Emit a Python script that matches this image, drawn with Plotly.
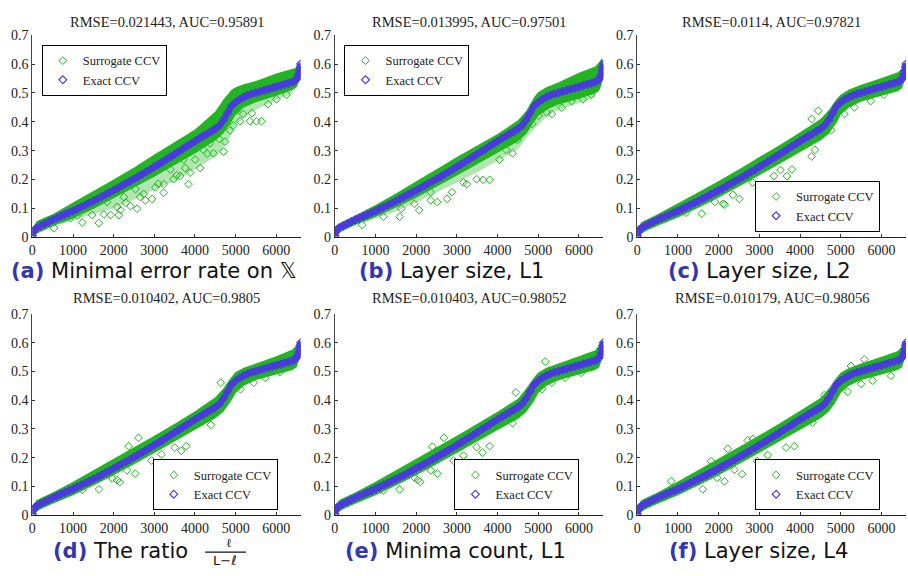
import plotly.graph_objects as go

# ---------------- data ----------------
# Exact CCV (sorted), same in every panel
EX_X = [0, 25, 50, 100, 200, 300, 400, 500, 600, 700, 800, 900, 1000, 1100, 1200, 1300, 1400,
        1500, 1600, 1700, 1800, 1900, 2000, 2100, 2200, 2300, 2400, 2500, 2600, 2700, 2800, 2900,
        3000, 3100, 3200, 3300, 3400, 3500, 3600, 3700, 3800, 3900, 4000, 4100, 4200, 4300, 4400,
        4500, 4600, 4700, 4800, 4900, 5000, 5100, 5200, 5300, 5400, 5500, 5600, 5700, 5800, 5900,
        6000, 6100, 6200, 6300, 6400, 6450, 6500, 6530, 6550, 6570, 6585, 6600]
EX_Y = [0.005, 0.018, 0.026, 0.032, 0.040, 0.047, 0.054, 0.061, 0.067, 0.073, 0.079, 0.085, 0.091,
        0.098, 0.105, 0.112, 0.119, 0.126, 0.133, 0.140, 0.148, 0.155, 0.163,
        0.170, 0.178, 0.186, 0.194, 0.202, 0.210, 0.218, 0.227, 0.235, 0.244,
        0.252, 0.261, 0.270, 0.279, 0.288, 0.297, 0.306, 0.315, 0.324, 0.333,
        0.342, 0.350, 0.358, 0.366, 0.375, 0.387, 0.406, 0.430, 0.455, 0.468,
        0.478, 0.486, 0.492, 0.497, 0.501, 0.505, 0.509, 0.513, 0.517, 0.521,
        0.525, 0.529, 0.533, 0.538, 0.542, 0.548, 0.555, 0.565, 0.578, 0.590, 0.600]

# x positions where the surrogate band edges were read
BAND_X = [0, 100, 250, 500, 1000, 1500, 2000, 2500, 3000, 3500, 4000, 4500, 4700, 4900,
          5000, 5200, 5500, 6000, 6400, 6500, 6560, 6600]
# x positions where the lower edge of the sparse surrogate cloud was read
CLOUD_X = [700, 1000, 1500, 2000, 2500, 3000, 3500, 4000, 4500, 4800, 5000, 5300, 5600, 6000, 6400]

# (a) Minimal error rate
SUR_UP_A = [0.025, 0.055, 0.065, 0.080, 0.120, 0.160, 0.200, 0.242, 0.287, 0.330, 0.373, 0.436,
            0.477, 0.511, 0.520, 0.530, 0.541, 0.567, 0.584, 0.587, 0.592, 0.590]
SUR_LO_A = [0.000, 0.012, 0.022, 0.038, 0.065, 0.098, 0.135, 0.172, 0.210, 0.250, 0.290, 0.335,
            0.360, 0.400, 0.425, 0.450, 0.468, 0.490, 0.510, 0.520, 0.540, 0.560]
CLOUD_A = [0.045, 0.060, 0.080, 0.100, 0.130, 0.165, 0.195, 0.235, 0.280, 0.330, 0.390, 0.425,
           0.450, 0.475, 0.500]
OUT_XA = [1225, 1636, 1472, 1759, 1922, 2126, 2086, 2413, 2577, 2779, 2943, 3229, 2737, 2250,
          3229, 3473, 3636, 3840, 3759, 4127, 4208, 4453, 4698, 4739, 4861, 5106, 5351, 5514,
          5637, 5024, 5800, 6004, 6249, 4371, 4535, 3392, 3881, 2537, 3024, 1840, 1391, 941,
          533, 2168, 4004, 4943, 5187, 3718, 1100, 2300, 2650, 3100, 3550, 4300, 4600, 5400]
OUT_YA = [0.051, 0.049, 0.077, 0.079, 0.077, 0.077, 0.105, 0.108, 0.099, 0.128, 0.133, 0.154,
          0.150, 0.139, 0.184, 0.201, 0.212, 0.184, 0.240, 0.240, 0.303, 0.291, 0.297, 0.331,
          0.370, 0.402, 0.402, 0.402, 0.402, 0.438, 0.461, 0.478, 0.494, 0.325, 0.365, 0.235,
          0.224, 0.167, 0.173, 0.122, 0.111, 0.066, 0.032, 0.094, 0.269, 0.387, 0.427, 0.269,
          0.075, 0.120, 0.140, 0.185, 0.215, 0.290, 0.340, 0.430]

# (b) Layer size, L1
SUR_UP_B = [0.022, 0.048, 0.058, 0.075, 0.112, 0.152, 0.194, 0.236, 0.278, 0.318, 0.358, 0.405,
            0.437, 0.486, 0.503, 0.520, 0.537, 0.570, 0.592, 0.607, 0.620, 0.605]
SUR_LO_B = [0.000, 0.015, 0.026, 0.042, 0.070, 0.103, 0.137, 0.175, 0.214, 0.253, 0.293, 0.332,
            0.357, 0.400, 0.420, 0.442, 0.460, 0.480, 0.498, 0.508, 0.530, 0.560]
CLOUD_B = [0.050, 0.065, 0.090, 0.120, 0.155, 0.190, 0.225, 0.265, 0.305, 0.360, 0.390, 0.430,
           0.445, 0.465, 0.485]
OUT_XB = [1192, 1593, 1955, 2076, 2357, 2518, 2880, 2357, 3162, 3484, 3645, 3806, 3243, 4369,
          4208, 4852, 5013, 5214, 5576, 5335, 5817, 6099, 6300, 4490, 4048, 2760, 1633, 668]
OUT_YB = [0.071, 0.071, 0.116, 0.094, 0.128, 0.122, 0.156, 0.156, 0.190, 0.201, 0.199, 0.199,
          0.184, 0.291, 0.303, 0.393, 0.421, 0.432, 0.449, 0.427, 0.472, 0.478, 0.494, 0.337,
          0.269, 0.133, 0.099, 0.043]

# (c) Layer size, L2
SUR_UP_C = [0.025, 0.052, 0.062, 0.080, 0.118, 0.156, 0.195, 0.236, 0.278, 0.320, 0.364, 0.410,
            0.440, 0.480, 0.495, 0.512, 0.528, 0.552, 0.572, 0.585, 0.605, 0.600]
SUR_LO_C = [0.000, 0.012, 0.024, 0.040, 0.068, 0.102, 0.138, 0.176, 0.215, 0.255, 0.295, 0.335,
            0.358, 0.398, 0.425, 0.450, 0.470, 0.490, 0.506, 0.516, 0.540, 0.565]
OUT_XC = [1586, 2109, 1908, 2350, 2511, 3518, 3679, 3800, 3357, 2833, 4364, 4284, 4767, 5089,
          5331, 5734, 6056, 4445, 4284, 1200, 2150]
OUT_YC = [0.082, 0.116, 0.122, 0.147, 0.133, 0.233, 0.212, 0.235, 0.212, 0.190, 0.303, 0.280,
          0.371, 0.427, 0.450, 0.472, 0.494, 0.438, 0.410, 0.085, 0.113]

# (d) The ratio l/(L-l)
SUR_UP_D = [0.025, 0.052, 0.062, 0.079, 0.116, 0.156, 0.196, 0.236, 0.276, 0.318, 0.362, 0.410,
            0.442, 0.482, 0.498, 0.513, 0.528, 0.553, 0.576, 0.592, 0.612, 0.600]
SUR_LO_D = [0.000, 0.012, 0.024, 0.040, 0.069, 0.103, 0.139, 0.177, 0.216, 0.256, 0.297, 0.337,
            0.360, 0.400, 0.425, 0.450, 0.470, 0.489, 0.505, 0.515, 0.540, 0.565]
OUT_XD = [1637, 1232, 2083, 1962, 2326, 2529, 2934, 3177, 3500, 3663, 3784, 4392, 4797, 5121,
          5445, 5728, 6092, 2610, 2367, 4635, 2150]
OUT_YD = [0.090, 0.088, 0.122, 0.128, 0.156, 0.145, 0.190, 0.212, 0.235, 0.224, 0.240, 0.314,
          0.404, 0.438, 0.461, 0.478, 0.497, 0.269, 0.240, 0.461, 0.115]

# (e) Minima count, L1
SUR_UP_E = [0.025, 0.052, 0.062, 0.079, 0.116, 0.156, 0.196, 0.236, 0.276, 0.318, 0.360, 0.405,
            0.440, 0.480, 0.496, 0.513, 0.528, 0.553, 0.574, 0.592, 0.612, 0.600]
SUR_LO_E = [0.000, 0.012, 0.024, 0.040, 0.069, 0.103, 0.139, 0.177, 0.216, 0.256, 0.296, 0.335,
            0.358, 0.398, 0.425, 0.450, 0.469, 0.489, 0.505, 0.515, 0.540, 0.565]
OUT_XE = [1593, 1192, 2037, 1955, 2100, 2357, 2518, 2920, 3162, 3484, 3628, 3806, 4369, 4771,
          5093, 5335, 5657, 6059, 2680, 2397, 4450, 5174]
OUT_YE = [0.090, 0.086, 0.122, 0.131, 0.116, 0.156, 0.145, 0.190, 0.207, 0.237, 0.218, 0.240,
          0.320, 0.410, 0.438, 0.461, 0.478, 0.495, 0.269, 0.238, 0.427, 0.534]

# (f) Layer size, L4
SUR_UP_F = [0.025, 0.052, 0.062, 0.079, 0.117, 0.157, 0.197, 0.237, 0.278, 0.320, 0.363, 0.408,
            0.440, 0.480, 0.496, 0.512, 0.528, 0.551, 0.571, 0.587, 0.607, 0.600]
SUR_LO_F = [0.000, 0.012, 0.024, 0.040, 0.069, 0.103, 0.139, 0.178, 0.217, 0.257, 0.297, 0.337,
            0.360, 0.400, 0.426, 0.450, 0.470, 0.489, 0.505, 0.515, 0.540, 0.565]
OUT_XF = [1611, 2142, 1962, 2388, 2576, 2944, 3205, 3655, 3859, 4309, 4759, 5168, 5495, 5781,
          6231, 2715, 2838, 2224, 1815, 834, 4595, 5250, 5577]
OUT_YF = [0.090, 0.118, 0.130, 0.158, 0.143, 0.188, 0.209, 0.235, 0.240, 0.322, 0.389, 0.429,
          0.457, 0.468, 0.485, 0.260, 0.265, 0.231, 0.188, 0.118, 0.418, 0.519, 0.542]

TITLES = ["RMSE=0.021443, AUC=0.95891", "RMSE=0.013995, AUC=0.97501", "RMSE=0.0114, AUC=0.97821",
          "RMSE=0.010402, AUC=0.9805", "RMSE=0.010403, AUC=0.98052", "RMSE=0.010179, AUC=0.98056"]
CAPTIONS = ["(a)|Minimal error rate on 𝕏", "(b)|Layer size, L1", "(c)|Layer size, L2",
            "(d)|The ratio", "(e)|Minima count, L1", "(f)|Layer size, L4"]
X_TICKS = [0, 1000, 2000, 3000, 4000, 5000, 6000]
Y_TICKS = [0, 0.1, 0.2, 0.3, 0.4, 0.5, 0.6, 0.7]
LEG_NAMES = ["Surrogate CCV", "Exact CCV"]

# ---------------- styling / layout ----------------
# Page margin is removed (post_script); the page adds a few pixels below the
# figure, so the figure is a little shorter than the window.
W, H = 908, 567
GREEN = "#22B422"
BLUE = "#4A3BDD"
CAPBLUE = "#3535B0"
SERIF = "Liberation Serif, Times New Roman, serif"
SANS = "DejaVu Sans, sans-serif"


def px_x(v):
    return v / W


def px_y(v):
    return 1 - v / H


col_px = [(28.5, 298.0), (332.3, 602.0), (636.0, 906.0)]
row_px = [(29.0, 236.5), (315.3, 522.0)]
cap_center_px = [150.5, 449.5, 758.5, 122.0, 453.5, 758.0]
legend_pos = [  # (x_px, y_px, xanchor, yanchor)
    (38, 39, "left", "top"), (342, 39, "left", "top"), (880, 231, "right", "bottom"),
    (275, 517, "right", "bottom"), (578, 517, "right", "bottom"), (880, 517, "right", "bottom")]

panels = [
    (SUR_UP_A, SUR_LO_A, CLOUD_A, OUT_XA, OUT_YA),
    (SUR_UP_B, SUR_LO_B, CLOUD_B, OUT_XB, OUT_YB),
    (SUR_UP_C, SUR_LO_C, None, OUT_XC, OUT_YC),
    (SUR_UP_D, SUR_LO_D, None, OUT_XD, OUT_YD),
    (SUR_UP_E, SUR_LO_E, None, OUT_XE, OUT_YE),
    (SUR_UP_F, SUR_LO_F, None, OUT_XF, OUT_YF),
]

fig = go.Figure()
layout = dict(width=W, height=H, margin=dict(l=0, r=0, t=0, b=0),
              paper_bgcolor="white", plot_bgcolor="white", showlegend=True)
annotations = []
shapes = []

for i, (up, lo, cloud, ox, oy) in enumerate(panels):
    r, c = divmod(i, 3)
    n = i + 1
    xa = "x" if n == 1 else f"x{n}"
    ya = "y" if n == 1 else f"y{n}"
    leg = "legend" if n == 1 else f"legend{n}"
    x0, x1 = col_px[c]
    y0, y1 = row_px[r]
    layout["xaxis" if n == 1 else f"xaxis{n}"] = dict(
        domain=[px_x(x0), px_x(x1)], range=[0, 6600], anchor=ya, tickvals=X_TICKS,
        ticktext=[str(v) for v in X_TICKS], ticks="inside", ticklen=3, tickcolor="#333",
        showline=True, linecolor="#222", linewidth=1, showgrid=False, zeroline=False,
        tickfont=dict(family=SERIF, size=14, color="#222"))
    layout["yaxis" if n == 1 else f"yaxis{n}"] = dict(
        domain=[px_y(y1), px_y(y0)], range=[0, 0.7], anchor=xa, tickvals=Y_TICKS,
        ticktext=["0" if v == 0 else f"{v:.1f}" for v in Y_TICKS], ticks="inside", ticklen=3,
        tickcolor="#333", showline=True, linecolor="#444", linewidth=1, showgrid=False,
        zeroline=False, tickfont=dict(family=SERIF, size=14, color="#222"))
    lx, ly, lxa, lya = legend_pos[i]
    layout[leg] = dict(x=px_x(lx), y=px_y(ly), xanchor=lxa, yanchor=lya, bgcolor="white",
                       bordercolor="black", borderwidth=1, tracegroupgap=0,
                       font=dict(family=SERIF, size=12.5, color="#222"))

    # sparse cloud of surrogate points (panels a, b)
    if cloud is not None:
        top_x = [x for x in EX_X if CLOUD_X[0] <= x <= CLOUD_X[-1]]
        top_y = [y for x, y in zip(EX_X, EX_Y) if CLOUD_X[0] <= x <= CLOUD_X[-1]]
        fig.add_trace(go.Scatter(x=top_x + CLOUD_X[::-1], y=top_y + cloud[::-1], mode="none",
                                 fill="toself", fillcolor="rgba(34,180,34,0.35)",
                                 xaxis=xa, yaxis=ya, showlegend=False, hoverinfo="skip"))
    # dense surrogate band
    fig.add_trace(go.Scatter(x=BAND_X + BAND_X[::-1], y=up + lo[::-1], mode="none",
                             fill="toself", fillcolor=GREEN, xaxis=xa, yaxis=ya,
                             showlegend=False, hoverinfo="skip"))
    # individual surrogate points
    fig.add_trace(go.Scatter(x=ox, y=oy, mode="markers", name=LEG_NAMES[0],
                             marker=dict(symbol="diamond-open", size=6, color=GREEN,
                                         line=dict(width=1, color=GREEN)),
                             xaxis=xa, yaxis=ya, legend=leg))
    # exact CCV band
    fig.add_trace(go.Scatter(x=EX_X, y=EX_Y, mode="lines", line=dict(color=BLUE, width=6),
                             xaxis=xa, yaxis=ya, showlegend=False, hoverinfo="skip"))
    fig.add_trace(go.Scatter(x=EX_X, y=EX_Y, mode="markers", name=LEG_NAMES[1],
                             marker=dict(symbol="diamond-open", size=6, color=BLUE,
                                         line=dict(width=1.2, color=BLUE)),
                             xaxis=xa, yaxis=ya, legend=leg))

    # title
    annotations.append(dict(text=TITLES[i], x=px_x((x0 + x1) / 2), y=px_y(15 if r == 0 else 299),
                            xref="paper", yref="paper", xanchor="center", yanchor="middle",
                            showarrow=False, font=dict(family=SERIF, size=14.5, color="#222")))
    # caption
    tag, txt = CAPTIONS[i].split("|")
    cap = f'<span style="color:{CAPBLUE}"><b>{tag}</b></span> {txt}'
    cy = px_y(271 if r == 0 else 559)
    if i == 3:
        annotations.append(dict(text=cap, x=px_x(47), y=cy, xref="paper", yref="paper",
                                xanchor="left", yanchor="middle", showarrow=False,
                                font=dict(family=SANS, size=21, color="#111")))
    else:
        annotations.append(dict(text=cap, x=px_x(cap_center_px[i]), y=cy, xref="paper",
                                yref="paper", xanchor="center", yanchor="middle",
                                showarrow=False, font=dict(family=SANS, size=21, color="#111")))

# fraction l / (L - l) for caption (d)
annotations.append(dict(text="ℓ", x=px_x(226), y=px_y(551), xref="paper", yref="paper",
                        xanchor="center", yanchor="middle", showarrow=False,
                        font=dict(family="DejaVu Serif, serif", size=12, color="#111")))
annotations.append(dict(text="L−ℓ", x=px_x(222), y=px_y(569), xref="paper", yref="paper",
                        xanchor="center", yanchor="middle", showarrow=False,
                        font=dict(family="DejaVu Sans, sans-serif", size=13, color="#111")))
shapes.append(dict(type="line", xref="paper", yref="paper", x0=px_x(202), x1=px_x(243),
                   y0=px_y(560), y1=px_y(560), line=dict(color="#111", width=1.3)))

layout["annotations"] = annotations
layout["shapes"] = shapes
fig.update_layout(**layout)
fig.write_html("out.html", config={"displayModeBar": False},
               post_script="document.body.style.margin='0px';")
